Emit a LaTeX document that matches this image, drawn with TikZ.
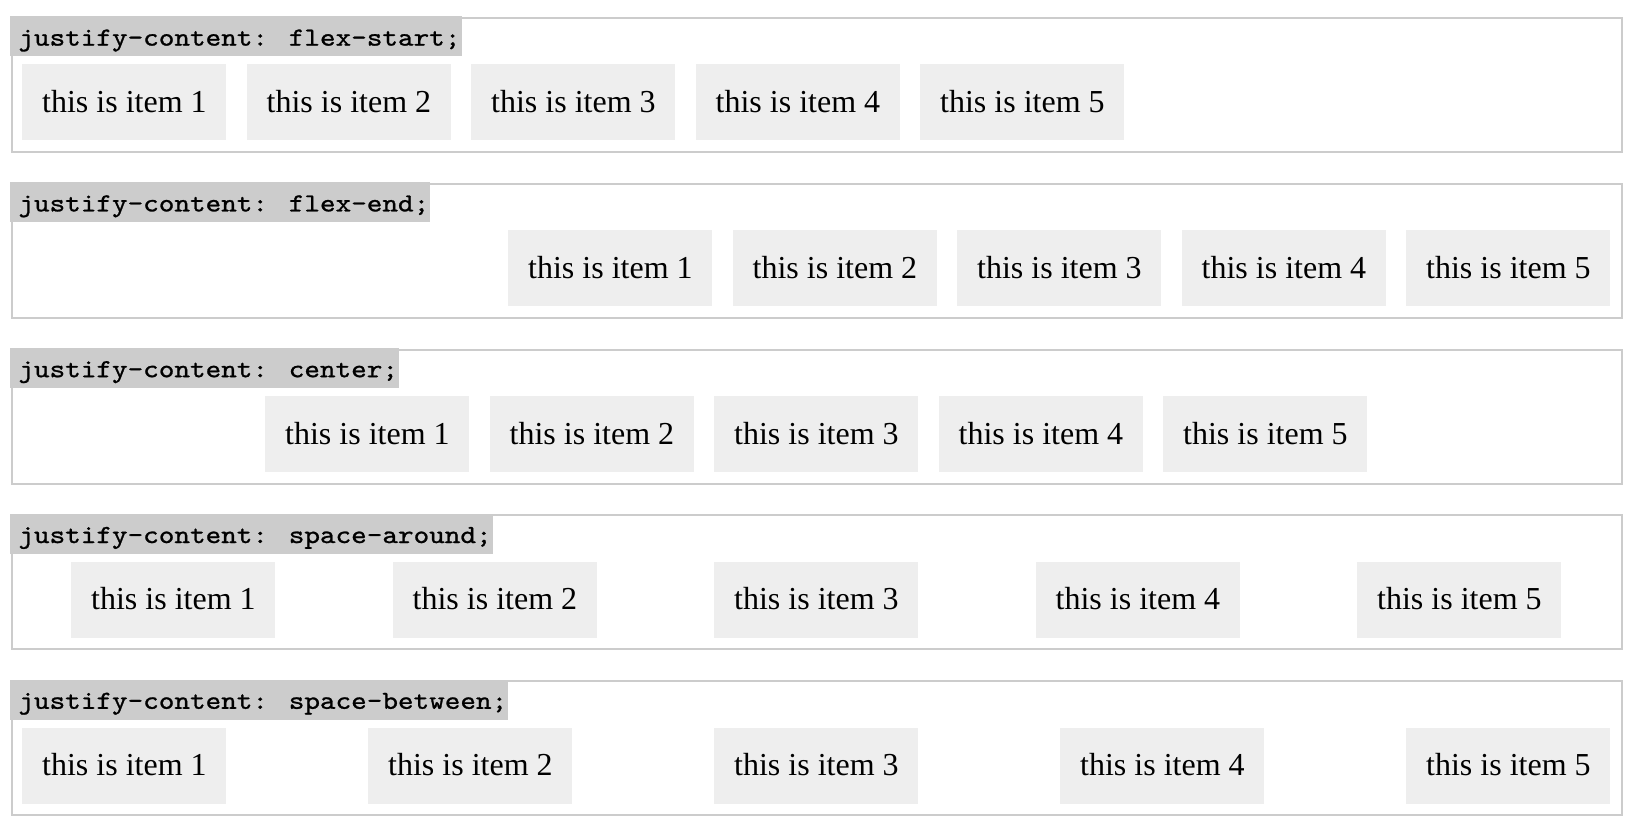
\documentclass[tikz,border=0pt]{standalone}
\usepackage{fontspec}
\setmainfont{Liberation Serif}
\newfontfamily\labelmono[FakeStretch=1.143,FakeBold=1.0]{lmmono10-regular.otf}
\definecolor{bordergray}{HTML}{CCCCCC}
\definecolor{labelgray}{HTML}{CCCCCC}
\definecolor{itemgray}{HTML}{EEEEEE}
\tikzset{
  flexbox/.style={draw=bordergray, line width=1pt, anchor=north west, inner sep=0pt,
    minimum width=805pt, minimum height=67pt},
  cssbox/.style={fill=labelgray, anchor=north west, inner xsep=0pt, inner ysep=0pt,
    text height=14.6pt, text depth=5.4pt, font=\labelmono\fontsize{13pt}{16pt}\selectfont},
  itembox/.style={fill=itemgray, anchor=north west, inner xsep=0pt, inner ysep=0pt,
    minimum width=102pt, text height=24pt, text depth=14pt,
    font=\fontsize{16pt}{19pt}\selectfont}
}
\begin{document}
\begin{tikzpicture}[x=0.5pt,y=-0.5pt]
\useasboundingbox (0,0) rectangle (1634,830);
% containers
\node[flexbox] (c1) at (11,17) {};
\node[flexbox] (c2) at (11,182.8) {};
\node[flexbox] (c3) at (11,348.6) {};
\node[flexbox] (c4) at (11,514.4) {};
\node[flexbox] (c5) at (11,680.2) {};
% labels
\node[cssbox] (l1) at (10,16) {\hspace*{4pt}justify-content: flex-start;\hspace*{0.6pt}};
\node[cssbox] (l2) at (10,181.8) {\hspace*{4pt}justify-content: flex-end;\hspace*{0.6pt}};
\node[cssbox] (l3) at (10,347.6) {\hspace*{4pt}justify-content: center;\hspace*{0.6pt}};
\node[cssbox] (l4) at (10,513.4) {\hspace*{4pt}justify-content: space-around;\hspace*{0.6pt}};
\node[cssbox] (l5) at (10,679.2) {\hspace*{4pt}justify-content: space-between;\hspace*{0.6pt}};
% items
\foreach \x [count=\i] in {22,246.5,471,695.5,920}
  \node[itembox] (a\i) at (\x,64) {this is item \i};
\foreach \x [count=\i] in {508,732.5,957,1181.5,1406}
  \node[itembox] (b\i) at (\x,229.8) {this is item \i};
\foreach \x [count=\i] in {265,489.5,714,938.5,1163}
  \node[itembox] (d\i) at (\x,395.6) {this is item \i};
\foreach \x [count=\i] in {71,392.5,714,1035.5,1357}
  \node[itembox] (e\i) at (\x,561.4) {this is item \i};
\foreach \x [count=\i] in {22,368,714,1060,1406}
  \node[itembox] (f\i) at (\x,727.2) {this is item \i};
\end{tikzpicture}
\end{document}
